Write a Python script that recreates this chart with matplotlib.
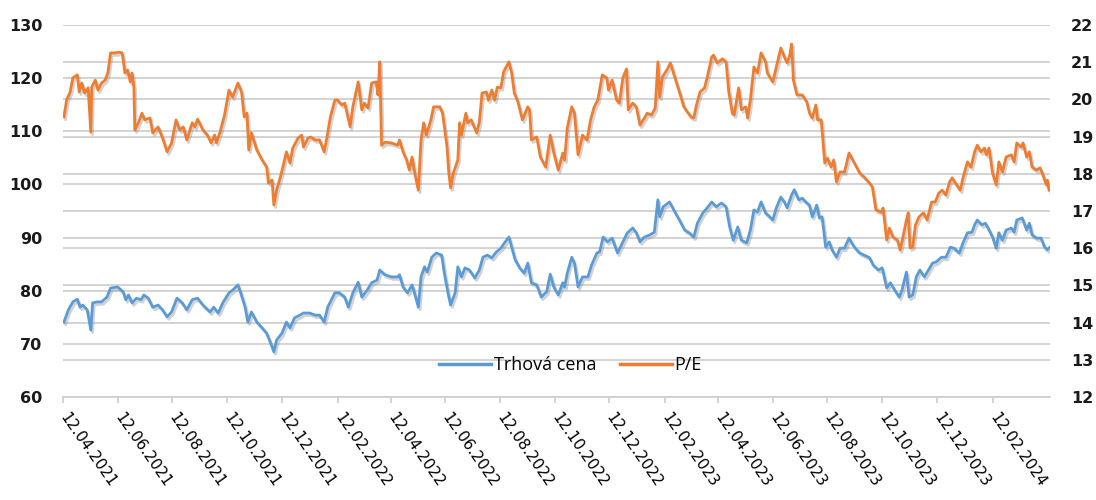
import matplotlib
matplotlib.use("Agg")
import matplotlib.pyplot as plt
import matplotlib.patheffects as pe
import pandas as pd

# ── data ───────────────────────────────────────────────────────────────
START = pd.Timestamp("2021-04-12")
X_END_DAYS = 1100

price_days = [
    1, 6, 11, 16, 19, 22, 27, 31, 33, 38, 43, 49, 53, 61, 67, 70, 73, 77, 82, 87,
    90, 95, 100, 106, 111, 116, 121, 127, 133, 138, 144, 150, 156, 164, 168, 173, 178, 185, 189, 195,
    198, 203, 206, 210, 216, 222, 227, 231, 235, 238, 244, 249, 253, 258, 264, 268, 275, 281, 286, 291,
    295, 303, 308, 314, 318, 323, 329, 333, 339, 344, 350, 353, 359, 366, 373, 375, 379, 384, 389, 393,
    396, 399, 403, 406, 411, 416, 422, 425, 429, 432, 437, 440, 444, 448, 453, 459, 464, 468, 473, 478,
    483, 488, 492, 497, 500, 504, 509, 514, 518, 522, 528, 533, 539, 543, 547, 552, 557, 559, 562, 567,
    570, 574, 579, 585, 589, 595, 598, 602, 607, 612, 618, 624, 629, 635, 639, 643, 648, 654, 659, 663,
    665, 669, 676, 682, 687, 693, 698, 703, 707, 713, 718, 723, 728, 734, 739, 743, 747, 752, 756, 762,
    766, 770, 774, 778, 783, 786, 791, 795, 800, 804, 807, 812, 815, 820, 824, 829, 832, 835, 840, 843,
    846, 850, 854, 857, 862, 866, 871, 876, 882, 888, 893, 899, 903, 909, 913, 918, 922, 927, 932, 935,
    937, 940, 943, 947, 951, 955, 960, 966, 969, 973, 979, 984, 989, 993, 999, 1003, 1008, 1013, 1016, 1019,
    1024, 1028, 1031, 1036, 1040, 1043, 1047, 1051, 1057, 1060, 1063, 1069, 1074, 1077, 1080, 1085, 1090, 1094, 1097, 1100,
]
price_values = [
    74.1, 76.4, 77.9, 78.4, 76.9, 77.3, 76.4, 72.6, 77.7, 77.9, 77.9, 78.8, 80.5, 80.7, 79.8, 78.3, 79.2, 77.7, 78.6, 78.3,
    79.2, 78.6, 76.9, 77.3, 76.4, 75.1, 76.0, 78.6, 77.7, 76.4, 78.3, 78.6, 77.3, 76.0, 76.9, 75.8, 77.7, 79.6, 80.1, 81.1,
    79.6, 76.9, 74.1, 76.0, 74.1, 73.0, 72.0, 70.3, 68.5, 70.7, 72.0, 74.1, 73.0, 74.9, 75.4, 75.8, 75.8, 75.4, 75.4, 74.1,
    76.9, 79.6, 79.6, 78.8, 76.9, 79.6, 81.6, 78.8, 80.1, 81.5, 82.0, 83.9, 83.0, 82.6, 82.6, 83.0, 80.7, 79.6, 81.1, 78.8,
    76.9, 82.6, 84.5, 83.5, 86.3, 87.1, 86.7, 83.3, 79.6, 77.3, 79.6, 84.5, 82.6, 84.3, 83.9, 82.4, 83.9, 86.3, 86.7, 86.2,
    87.3, 88.0, 89.0, 90.1, 88.2, 85.8, 84.3, 83.3, 85.2, 81.5, 81.1, 78.8, 79.8, 83.1, 80.7, 79.2, 81.5, 80.7, 83.3, 86.3,
    85.2, 80.7, 82.6, 82.6, 84.8, 87.1, 87.3, 90.1, 89.2, 89.9, 87.1, 89.2, 90.9, 91.8, 90.9, 89.2, 90.1, 90.5, 91.0, 97.1,
    93.9, 95.8, 96.7, 94.8, 93.3, 91.4, 90.9, 90.1, 92.7, 94.6, 95.6, 96.7, 95.8, 96.5, 95.8, 92.0, 89.5, 92.0, 89.5, 89.0,
    91.4, 95.2, 94.8, 96.7, 94.6, 94.2, 93.3, 95.6, 97.6, 96.7, 95.6, 98.0, 99.0, 97.1, 97.4, 96.5, 96.1, 93.9, 96.1, 93.7,
    93.9, 88.2, 89.2, 87.7, 86.3, 88.0, 88.0, 89.9, 88.2, 87.1, 86.7, 86.2, 84.8, 83.9, 84.3, 80.5, 81.5, 80.1, 78.8, 80.1,
    81.5, 83.5, 78.8, 79.2, 82.6, 83.9, 82.6, 84.3, 85.2, 85.4, 86.3, 86.3, 88.2, 88.0, 87.1, 89.0, 90.9, 91.0, 92.4, 93.3,
    92.4, 92.7, 91.8, 90.1, 88.0, 90.9, 89.5, 91.4, 91.8, 91.0, 93.3, 93.7, 91.4, 92.7, 90.5, 89.9, 89.9, 88.2, 87.7, 88.2,
]

pe_days = [
    1, 4, 8, 11, 16, 18, 21, 24, 28, 31, 32, 36, 39, 43, 47, 50, 53, 58, 62, 66,
    69, 72, 75, 77, 79, 80, 84, 88, 91, 97, 100, 106, 111, 116, 121, 126, 130, 134, 138, 144,
    147, 150, 156, 161, 165, 169, 171, 175, 180, 185, 189, 195, 199, 202, 205, 207, 210, 216, 222, 227,
    229, 233, 235, 238, 242, 245, 249, 253, 256, 262, 266, 268, 273, 276, 281, 286, 291, 294, 298, 303,
    306, 311, 314, 320, 323, 329, 333, 336, 340, 344, 349, 351, 353, 355, 359, 366, 373, 375, 379, 383,
    386, 389, 392, 396, 399, 402, 405, 410, 413, 420, 423, 428, 430, 432, 435, 440, 442, 444, 449, 451,
    455, 461, 464, 467, 472, 474, 478, 481, 484, 488, 491, 497, 500, 503, 507, 512, 518, 520, 522, 528,
    532, 538, 543, 547, 552, 557, 559, 562, 567, 570, 574, 579, 584, 588, 592, 596, 601, 606, 608, 612,
    617, 620, 624, 628, 630, 635, 639, 643, 648, 651, 656, 660, 663, 665, 668, 673, 677, 682, 687, 692,
    696, 700, 703, 706, 710, 715, 718, 723, 725, 729, 735, 739, 742, 746, 748, 753, 756, 761, 763, 766,
    770, 774, 778, 783, 785, 791, 795, 800, 804, 807, 810, 812, 814, 818, 824, 829, 832, 835, 839, 841,
    845, 849, 852, 856, 859, 862, 866, 871, 876, 882, 888, 893, 899, 902, 906, 912, 914, 918, 921, 925,
    930, 933, 935, 937, 940, 942, 944, 947, 950, 954, 959, 963, 968, 972, 976, 980, 984, 988, 991, 996,
    1000, 1003, 1008, 1012, 1016, 1019, 1023, 1027, 1029, 1032, 1036, 1040, 1043, 1047, 1051, 1057, 1060, 1063, 1068, 1070,
    1074, 1077, 1080, 1085, 1089, 1092, 1096, 1097, 1099,
]
pe_values = [
    19.53, 19.98, 20.20, 20.58, 20.66, 20.20, 20.44, 20.17, 20.31, 19.12, 20.33, 20.52, 20.25, 20.44, 20.52, 20.71, 21.25, 21.25, 21.27, 21.25,
    20.71, 20.79, 20.47, 20.71, 20.33, 19.18, 19.37, 19.63, 19.45, 19.50, 19.10, 19.26, 18.96, 18.59, 18.83, 19.45, 19.18, 19.26, 18.91, 19.37,
    19.26, 19.47, 19.18, 19.04, 18.83, 19.04, 18.83, 19.12, 19.58, 20.25, 20.06, 20.44, 20.20, 19.53, 19.63, 18.64, 19.10, 18.64, 18.37, 18.18,
    17.75, 17.83, 17.16, 17.56, 17.89, 18.18, 18.59, 18.29, 18.69, 18.96, 19.04, 18.72, 18.96, 18.99, 18.91, 18.91, 18.59, 18.96, 19.53, 19.98,
    19.98, 19.85, 19.90, 19.26, 19.80, 20.47, 19.72, 19.90, 19.77, 20.44, 20.47, 20.12, 21.01, 18.77, 18.85, 18.83, 18.77, 18.91, 18.59, 18.37,
    18.10, 18.45, 18.02, 17.56, 18.91, 19.37, 19.04, 19.45, 19.80, 19.80, 19.63, 18.72, 18.02, 17.62, 18.02, 18.37, 19.37, 19.04, 19.63, 19.37,
    19.45, 19.10, 19.39, 20.17, 20.20, 19.98, 20.25, 19.98, 20.33, 20.31, 20.74, 21.01, 20.71, 20.17, 19.93, 19.45, 19.80, 19.72, 18.91, 18.99,
    18.45, 18.18, 19.04, 18.56, 18.10, 18.56, 18.37, 19.23, 19.80, 19.63, 18.51, 19.04, 18.91, 19.45, 19.80, 19.98, 20.66, 20.58, 20.25, 20.52,
    19.98, 19.90, 20.58, 20.82, 19.72, 19.90, 19.80, 19.31, 19.50, 19.63, 19.58, 19.77, 21.01, 20.06, 20.60, 20.79, 20.98, 20.58, 20.20, 19.80,
    19.66, 19.53, 19.50, 19.85, 20.20, 20.31, 20.60, 21.14, 21.19, 20.98, 21.09, 21.01, 20.20, 19.63, 19.58, 20.31, 19.72, 19.80, 19.50, 19.98,
    20.87, 20.71, 21.25, 21.01, 20.71, 20.47, 20.87, 21.38, 21.14, 20.98, 21.19, 21.49, 20.52, 20.12, 20.12, 19.93, 19.63, 19.50, 19.85, 19.45,
    19.45, 18.29, 18.42, 18.18, 18.37, 17.78, 18.05, 18.05, 18.56, 18.29, 18.02, 17.91, 17.75, 17.65, 17.03, 16.97, 17.08, 16.22, 16.54, 16.30,
    16.22, 15.95, 16.17, 16.41, 16.76, 16.95, 16.01, 16.03, 16.62, 16.84, 16.95, 16.76, 17.24, 17.24, 17.48, 17.56, 17.43, 17.78, 17.89, 17.70,
    17.56, 17.89, 18.32, 18.18, 18.59, 18.77, 18.59, 18.69, 18.51, 18.69, 18.02, 17.70, 18.32, 18.05, 18.45, 18.51, 18.32, 18.83, 18.72, 18.83,
    18.45, 18.59, 18.18, 18.10, 18.16, 17.97, 17.70, 17.83, 17.56,
]

left_ticks = [60, 70, 80, 90, 100, 110, 120, 130]
right_ticks = [12, 13, 14, 15, 16, 17, 18, 19, 20, 21, 22]

BLUE = "#5B9BD5"
ORANGE = "#ED7D31"
GRID = "#D0D0D0"

price_dates = START + pd.to_timedelta(price_days, unit="D")
pe_dates = START + pd.to_timedelta(pe_days, unit="D")
tick_dates = [START + pd.DateOffset(months=2 * i) for i in range(18)]

# ── figure ─────────────────────────────────────────────────────────────
fig = plt.figure(figsize=(10.96, 5.0), dpi=100)
ax2 = fig.add_axes([63 / 1096, 1 - 397 / 500, (1050 - 63) / 1096, (397 - 25) / 500])
ax = ax2.twinx()          # left scale, drawn above ax2

ax.set_ylim(left_ticks[0], left_ticks[-1])
ax2.set_ylim(right_ticks[0], right_ticks[-1])
ax2.set_xlim(START, START + pd.Timedelta(days=X_END_DAYS))

ax2.set_yticks(right_ticks)
ax.set_yticks(left_ticks)
ax.yaxis.tick_left()
ax2.yaxis.tick_right()
ax2.grid(axis="y", color=GRID, lw=1.3)
ax.grid(axis="y", color=GRID, lw=1.3)

shadow = [pe.SimpleLineShadow(offset=(1.2, -1.8), shadow_color="#7f7f7f", alpha=0.35),
          pe.Normal()]
l1, = ax.plot(price_dates, price_values, color=BLUE, lw=2.0, label="Trhová cena",
              path_effects=shadow, zorder=3)
l2, = ax.plot(pe_dates, pe_values, color=ORANGE, lw=2.0, label="P/E",
              path_effects=shadow, zorder=3, transform=ax2.transData)
ax.set_ylim(left_ticks[0], left_ticks[-1])

# spines: only a light bottom axis line
for a in (ax, ax2):
    for s in ("top", "right", "left"):
        a.spines[s].set_visible(False)
ax.spines["bottom"].set_visible(False)
ax2.spines["bottom"].set_color(GRID)
ax2.spines["bottom"].set_linewidth(1.3)

ax.set_yticklabels([str(v) for v in left_ticks], fontsize=11.5, fontweight="bold",
                   color="#1a1a1a")
ax2.set_yticklabels([str(v) for v in right_ticks], fontsize=11.5, fontweight="bold",
                    color="#1a1a1a")
ax.tick_params(axis="y", length=0, pad=15)
ax2.tick_params(axis="y", length=0, pad=15)

ax2.set_xticks(tick_dates)
ax2.set_xticklabels([d.strftime("%d.%m.%Y") for d in tick_dates], fontsize=11,
                    rotation=-55, ha="left", va="center", rotation_mode="anchor")
ax2.tick_params(axis="x", length=4.5, width=1.3, color=GRID, pad=8)
ax.tick_params(axis="x", bottom=False, labelbottom=False)

leg = ax.legend(handles=[l1, l2], loc="center", bbox_to_anchor=(0.514, 0.086),
                ncol=2, frameon=False, prop={"family": "Open Sans", "size": 13},
                handlelength=2.9, handletextpad=0.15, columnspacing=1.3)
for line in leg.get_lines():
    line.set_linewidth(2.5)
    line.set_path_effects([])

fig.savefig("out.png", dpi=100)
